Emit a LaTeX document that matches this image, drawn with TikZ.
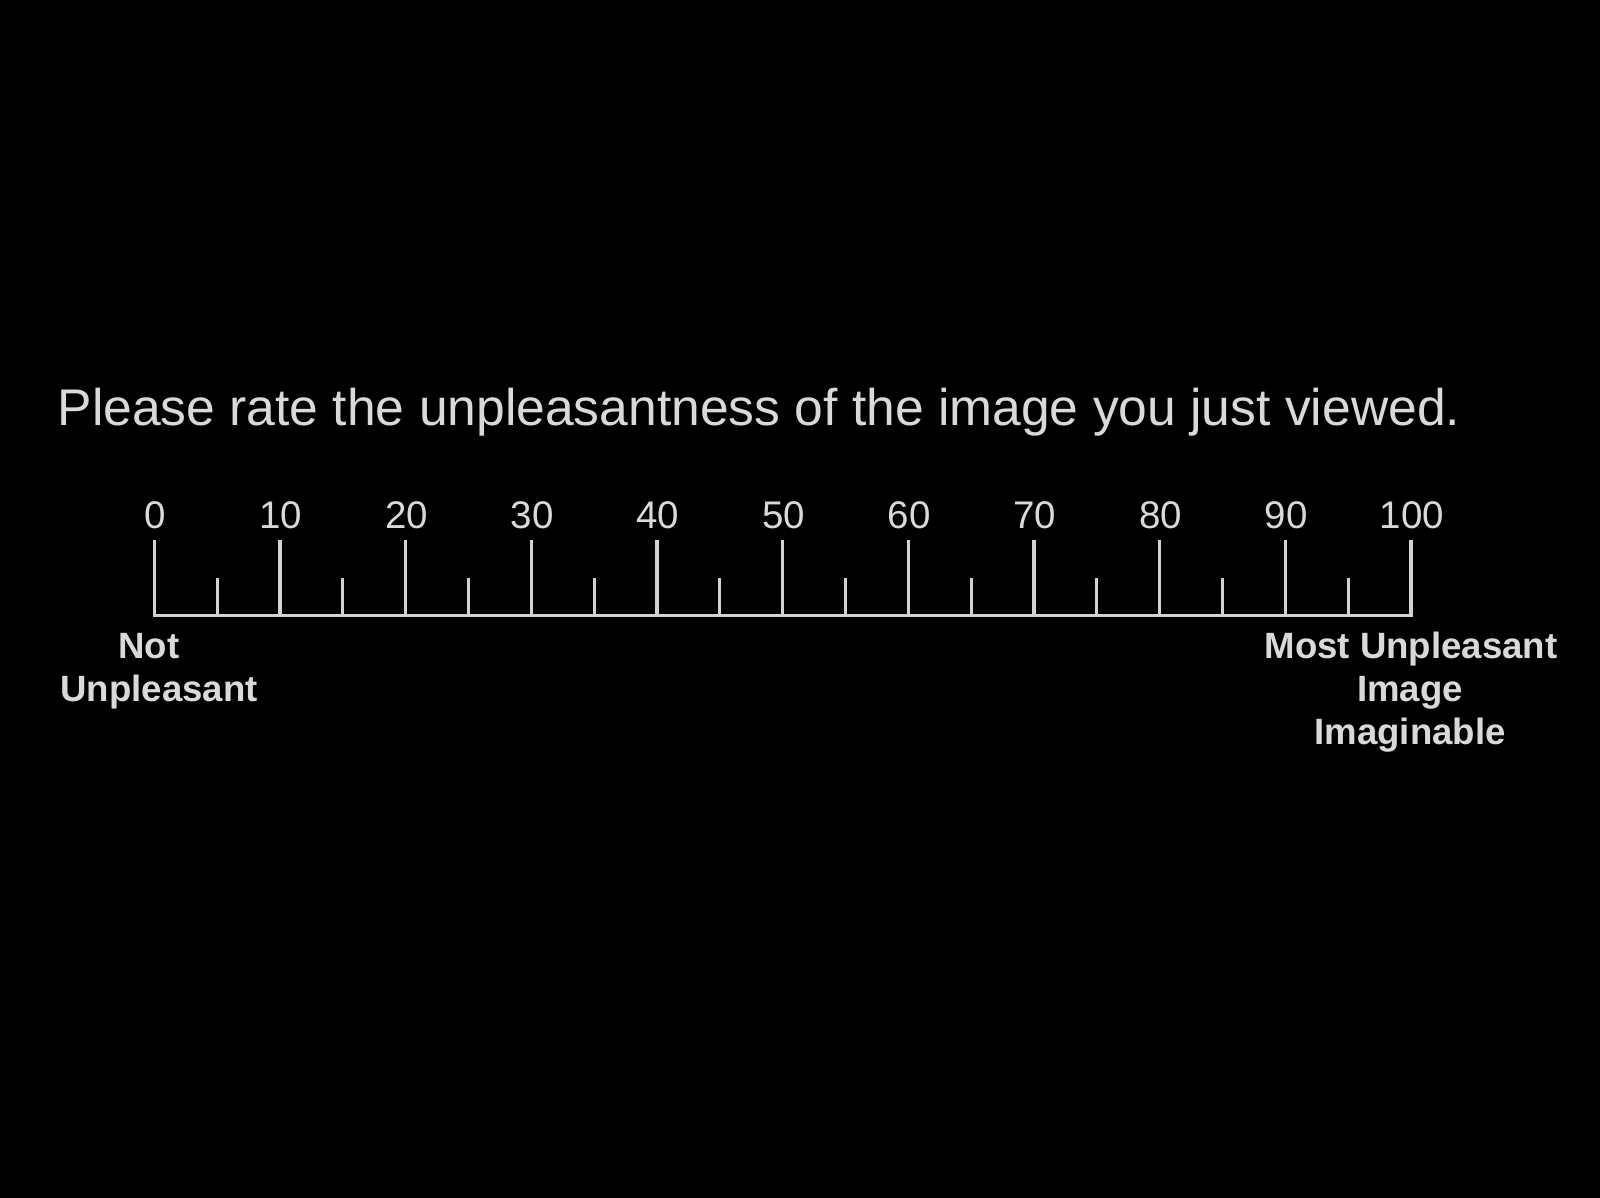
\documentclass[tikz,border=0pt]{standalone}
\usepackage{fontspec}
\setmainfont{Liberation Sans}
\definecolor{fg}{HTML}{D9D9D9}
\definecolor{tickc}{HTML}{D2D2D2}
\begin{document}
\begin{tikzpicture}[x=1pt,y=-1pt,
  titletext/.style={inner sep=0pt, anchor=base, text=fg, font=\fontsize{51.6}{61}\selectfont},
  numtext/.style={inner sep=0pt, anchor=base, text=fg, font=\fontsize{38.5}{43}\selectfont},
  endlabel/.style={inner sep=0pt, anchor=base, text=fg, font=\bfseries\fontsize{36.6}{43}\selectfont},
  axisline/.style={draw=tickc, line width=3.2pt, line join=miter}]
\fill[black] (0,0) rectangle (1600,1198);
\useasboundingbox (0,0) rectangle (1600,1198);
\node[titletext] (title) at (759,425) {Please rate the unpleasantness of the image you just viewed.};
\coordinate (a0) at (154.3,615.7);
\coordinate (a100) at (1411,615.7);
\draw[axisline] (154.3,540) -- (a0) -- (a100) -- (1411,540);
\foreach \i in {1,...,9} {
  \draw[axisline] ({154.3+125.67*\i},540) -- ({154.3+125.67*\i},615.7);
}
\foreach \i in {0,...,9} {
  \draw[axisline] ({154.3+125.67*\i+62.835},577.7) -- ({154.3+125.67*\i+62.835},615.7);
}
\foreach \i/\v in {0/0,1/10,2/20,3/30,4/40,5/50,6/60,7/70,8/80,9/90,10/100} {
  \node[numtext] (n\v) at ({154.3+125.67*\i+1},528) {\v};
}
\node[endlabel] (lnot) at (149,658) {Not};
\node[endlabel] (lunp) at (159,701) {Unpleasant};
\node[endlabel] (rmost) at (1411,658) {Most Unpleasant};
\node[endlabel] (rimage) at (1410,701) {Image};
\node[endlabel] (rimag) at (1410,744) {Imaginable};
\end{tikzpicture}
\end{document}
